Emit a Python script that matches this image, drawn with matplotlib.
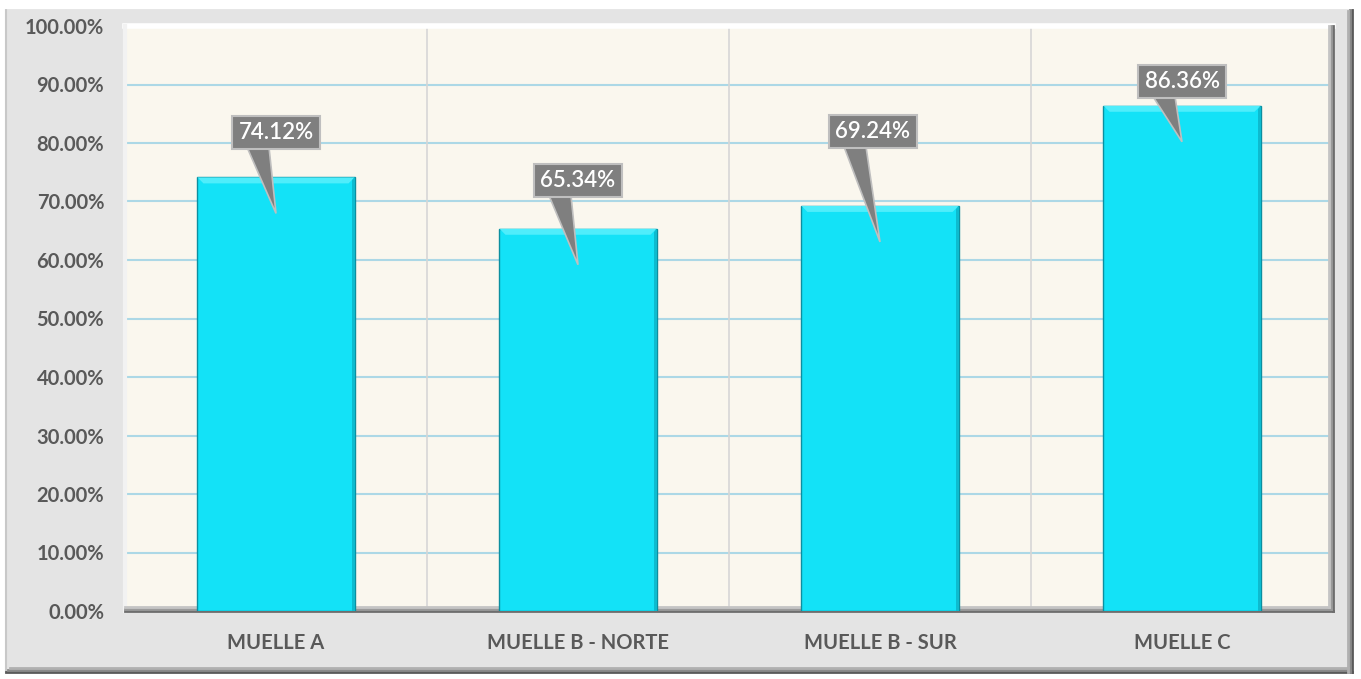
import matplotlib
matplotlib.use("Agg")
import matplotlib.pyplot as plt
from matplotlib.patches import Rectangle, Polygon
from matplotlib.ticker import FuncFormatter, MultipleLocator

categories = ["MUELLE A", "MUELLE B - NORTE", "MUELLE B - SUR", "MUELLE C"]
values = [74.12, 65.34, 69.24, 86.36]
labels = ["74.12%", "65.34%", "69.24%", "86.36%"]
# callout box centre offset above bar top (pixels) -- layout only
box_offsets_px = [45, 48, 74, 24]
box_dx_px = [0, 0, -7, 0]

W, H = 1361, 679
fig = plt.figure(figsize=(W / 100, H / 100), dpi=100)
fig.patch.set_facecolor("white")

fig.add_artist(Rectangle((6 / W, 7 / H), (1352 - 6) / W, (672 - 7) / H,
                         transform=fig.transFigure, facecolor="#E4E4E4",
                         edgecolor="#C8C8C8", linewidth=1.5, zorder=-10))
for k, c in enumerate(["#5a5a5a", "#8a8a8a", "#b0b0b0"]):
    fig.add_artist(plt.Line2D([(1352 - k * 2) / W] * 2, [7 / H, (672 - k * 2) / H],
                              transform=fig.transFigure, color=c, lw=2, zorder=-9))
    fig.add_artist(plt.Line2D([(6 + k * 2) / W, (1352 - k * 2) / W], [(7 + k * 2) / H] * 2,
                              transform=fig.transFigure, color=c, lw=2, zorder=-9))
fig.add_artist(plt.Line2D([6 / W, 1352 / W], [672 / H] * 2, transform=fig.transFigure,
                          color="#FFFFFF", lw=3, zorder=-9))

L, R, T, B = 125, 1333, 26, 611
ax = fig.add_axes([L / W, 1 - B / H, (R - L) / W, (B - T) / H])
ax.set_zorder(1)
ax.set_facecolor("#FAF7EE")
ax.set_xlim(-0.5, len(categories) - 0.5)
ax.set_ylim(0, 100)

px_x = (len(categories)) / (R - L)
px_y = 100.0 / (B - T)

ax.yaxis.set_major_locator(MultipleLocator(10))
ax.yaxis.set_major_formatter(FuncFormatter(lambda v, p: f"{v:.2f}%"))
ax.grid(axis="y", color="#ACD8E6", lw=1.5, zorder=1)
for i in range(1, len(categories)):
    ax.axvline(i - 0.5, color="#D6D6D6", lw=1.2, zorder=1)
ax.set_axisbelow(True)

for s in ax.spines.values():
    s.set_visible(False)

ax.axhline(100, color="#FFFFFF", lw=4, zorder=2, clip_on=False)
ax.axvline(-0.5, color="#F2F2F2", lw=3, zorder=2, clip_on=False)
for k, c in enumerate(["#6e6e6e", "#9a9a9a", "#c4c4c4"]):
    ax.plot([-0.5, len(categories) - 0.5 - k * 2 * px_x], [k * 2 * px_y] * 2,
            color=c, lw=2, zorder=2, clip_on=False)
    ax.plot([len(categories) - 0.5 - k * 2 * px_x] * 2, [k * 2 * px_y, 100],
            color=c, lw=2, zorder=2, clip_on=False)

ax.set_xticks(range(len(categories)))
ax.set_xticklabels(categories)
ax.tick_params(length=0)
ax.tick_params(axis="y", pad=15)
ax.tick_params(axis="x", pad=16)
for lab in ax.get_yticklabels() + ax.get_xticklabels():
    lab.set_fontfamily("Lato")
    lab.set_fontweight("bold")
    lab.set_color("#595959")
    lab.set_fontsize(14.5)

bw = 0.52
bars = ax.bar(range(len(categories)), values, width=bw, color="#13E2F7",
              edgecolor="#0B8FA0", linewidth=1.0, zorder=3)

bev = 6
for i, v in enumerate(values):
    x0, x1 = i - bw / 2, i + bw / 2
    ax.add_patch(Polygon([(x0, v), (x1, v), (x1 - bev * px_x, v - bev * px_y),
                          (x0 + bev * px_x, v - bev * px_y)],
                         closed=True, facecolor="#4FEDFB", edgecolor="none", zorder=4))
    ax.add_patch(Polygon([(x1, v), (x1, 0), (x1 - 3 * px_x, 0),
                          (x1 - 3 * px_x, v - 3 * px_y)],
                         closed=True, facecolor="#0DBBCF", edgecolor="none", zorder=4))

    cx = i + box_dx_px[i] * px_x
    cy = v + box_offsets_px[i] * px_y
    bh = 33 * px_y
    tip = (i, v - 36 * px_y)
    base_y = cy - bh / 2 + 0.3
    ax.add_patch(Polygon([(cx - 29 * px_x, base_y), (cx - 7 * px_x, base_y), tip],
                         closed=True, facecolor="#7F7F7F", edgecolor="#BFBFBF",
                         lw=1.2, zorder=5))
    ax.add_patch(Rectangle((cx - 44 * px_x, cy - bh / 2), 88 * px_x, bh,
                           facecolor="#7F7F7F", edgecolor="#BFBFBF", lw=1.5, zorder=6))
    ax.text(cx, cy, labels[i], ha="center", va="center", color="white",
            fontsize=16, fontfamily="Lato", fontweight="semibold", zorder=7)

fig.savefig("out.png", dpi=100, facecolor=fig.get_facecolor())
